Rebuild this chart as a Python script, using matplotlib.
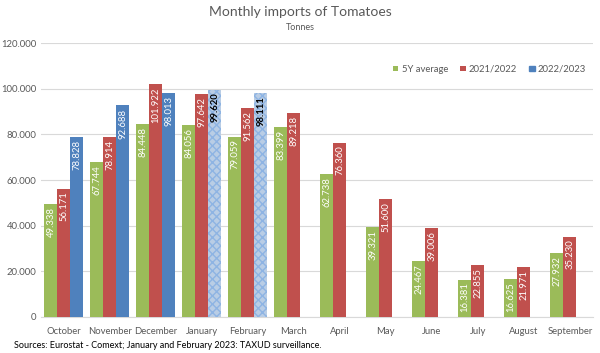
import numpy as np
import matplotlib.pyplot as plt

plt.rcParams['font.family'] = ['Lato', 'DejaVu Sans']

months = ["October", "November", "December", "January", "February", "March",
          "April", "May", "June", "July", "August", "September"]
avg5y = [49338, 67744, 84448, 84056, 79059, 83399, 62738, 39321, 24467, 16381, 16625, 27932]
y2122 = [56171, 78914, 101922, 97642, 91562, 89218, 76360, 51600, 39006, 22855, 21971, 35230]
y2223 = [78828, 92688, 98013, 99620, 98111]
estimated = [False, False, False, True, True]  # Jan/Feb 2023 from TAXUD surveillance

green = '#9BBB59'
red = '#C0504D'
blue = '#4F81BD'
grey = '#595959'


def fmt(v):
    return "{:,}".format(v).replace(",", ".")


fig = plt.figure(figsize=(6, 3.53), dpi=100)
ax = fig.add_axes([0.068, 0.102, 0.920, 0.776])

x = np.arange(len(months))
w = 0.28

b1 = ax.bar(x - w, avg5y, w, color=green, label="5Y average", zorder=3)
b2 = ax.bar(x, y2122, w, color=red, label="2021/2022", zorder=3)
x3 = x[:len(y2223)] + w
cols = [blue if not e else '#B9CDE5' for e in estimated]
b3 = ax.bar(x3, y2223, w, color=cols, label="2022/2023", zorder=3)
for bar, e in zip(b3, estimated):
    if e:
        bar.set_hatch('xxxx')
        bar.set_edgecolor('#8EB4E3')
        bar.set_linewidth(0)

pad = 1300
for xs, vals in [(x - w, avg5y), (x, y2122)]:
    for xi, v in zip(xs, vals):
        ax.text(xi, v - pad, fmt(v), rotation=90, ha='center', va='top',
                color='white', fontsize=6.8, zorder=4)
for xi, v, e in zip(x3, y2223, estimated):
    ax.text(xi, v - pad, fmt(v), rotation=90, ha='center', va='top',
            color='black' if e else 'white', fontsize=6.8,
            fontweight='bold' if e else 'normal', zorder=4)

ax.set_ylim(0, 120000)
ax.set_xlim(-0.5, len(months) - 0.5)
ax.set_yticks(np.arange(0, 120001, 20000))
ax.set_yticklabels([fmt(v) for v in range(0, 120001, 20000)])
ax.set_xticks(x)
ax.set_xticklabels(months)
ax.tick_params(axis='both', length=0, labelsize=6.8, colors=grey)
ax.tick_params(axis='y', pad=3)
ax.tick_params(axis='x', pad=7)
ax.grid(axis='y', color='#D9D9D9', linewidth=0.8, zorder=0)
for s in ['top', 'right', 'left']:
    ax.spines[s].set_visible(False)
ax.spines['bottom'].set_color('#D9D9D9')

leg = ax.legend(loc='upper right', bbox_to_anchor=(1.0, 0.945), ncol=3, frameon=False,
                fontsize=6.8, handlelength=0.55, handleheight=0.55, columnspacing=1.3,
                handletextpad=0.35, borderaxespad=0.3)
for t in leg.get_texts():
    t.set_color(grey)
leg.legend_handles[2].set_color(blue)

fig.text(0.5, 0.965, "Monthly imports of Tomatoes", ha='center', va='center',
         fontsize=10, color=grey)
fig.text(0.5, 0.922, "Tonnes", ha='center', va='center', fontsize=6.5, color=grey)
fig.text(0.023, 0.02, "Sources: Eurostat - Comext; January and February 2023: TAXUD surveillance.",
         ha='left', va='center', fontsize=6.5, color='black')

fig.savefig('out.png', dpi=100)
